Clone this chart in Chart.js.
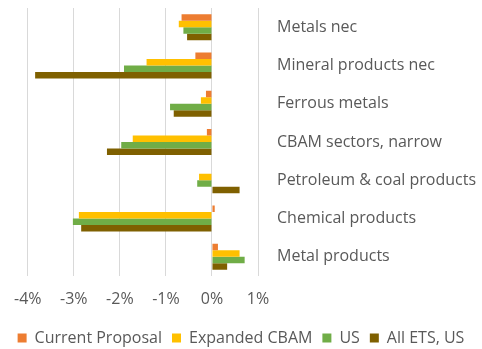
<!DOCTYPE html>
<html>
<head>
<meta charset="utf-8">
<script src="https://cdn.jsdelivr.net/npm/chart.js@4"></script>
<style>
  html, body { margin: 0; padding: 0; background: #fff; }
  #wrap { width: 482px; height: 349px; }
</style>
</head>
<body>
<div id="wrap"><canvas id="barChart" width="482" height="349"></canvas></div>
<script>
// Categories (top to bottom)
const categories = ['Metals nec', 'Mineral products nec', 'Ferrous metals', 'CBAM sectors, narrow',
    'Petroleum & coal products', 'Chemical products', 'Metal products'];

// Series values, in percent
const currentProposal = [-0.66, -0.36, -0.13, -0.11, 0.0, 0.06, 0.13];
const expandedCbam = [-0.72, -1.42, -0.24, -1.72, -0.28, -2.89, 0.60];
const usValues = [-0.62, -1.91, -0.91, -1.97, -0.32, -3.02, 0.71];
const allEtsUs = [-0.54, -3.84, -0.83, -2.28, 0.60, -2.84, 0.33];

// x-axis ticks
const xTicks = [-4, -3, -2, -1, 0, 1];

const textColor = '#595959';
const fontFamily = '"Open Sans", Lato, sans-serif';

const ctxBar = document.getElementById('barChart').getContext('2d');
const barChart = new Chart(ctxBar, {
    type: 'bar',
    data: {
        labels: categories,
        datasets: [
            { label: 'Current Proposal', data: currentProposal, backgroundColor: '#ED7D31' },
            { label: 'Expanded CBAM', data: expandedCbam, backgroundColor: '#FFC000' },
            { label: 'US', data: usValues, backgroundColor: '#70AD47' },
            { label: 'All ETS, US', data: allEtsUs, backgroundColor: '#7F6000' }
        ]
    },
    options: {
        indexAxis: 'y',
        responsive: false,
        animation: false,
        layout: { padding: { top: 8, left: 0, right: 0, bottom: -7 } },
        datasets: {
            bar: { categoryPercentage: 0.68, barPercentage: 1.0 }
        },
        scales: {
            x: {
                min: xTicks[0],
                max: xTicks[xTicks.length - 1],
                afterBuildTicks: (scale) => { scale.ticks = xTicks.map(v => ({ value: v })); },
                ticks: {
                    color: textColor,
                    font: { family: fontFamily, size: 16 },
                    padding: 14,
                    callback: (v) => v + '%'
                },
                grid: { color: '#d9d9d9', drawTicks: false },
                border: { display: false },
                afterFit: (scale) => { scale.height = 44; }
            },
            y: {
                position: 'right',
                ticks: {
                    color: textColor,
                    font: { family: fontFamily, size: 16 },
                    padding: 19
                },
                grid: { display: false, drawTicks: false },
                border: { display: false },
                afterFit: (scale) => {
                    scale.width = 224;
                    scale.paddingTop = 0;
                    scale.paddingBottom = 0;
                }
            }
        },
        plugins: {
            legend: {
                position: 'bottom',
                labels: {
                    color: textColor,
                    font: { family: fontFamily, size: 16 },
                    boxWidth: 9,
                    boxHeight: 9,
                    padding: 10
                }
            },
            tooltip: { enabled: false }
        }
    }
});
</script>
</body>
</html>
